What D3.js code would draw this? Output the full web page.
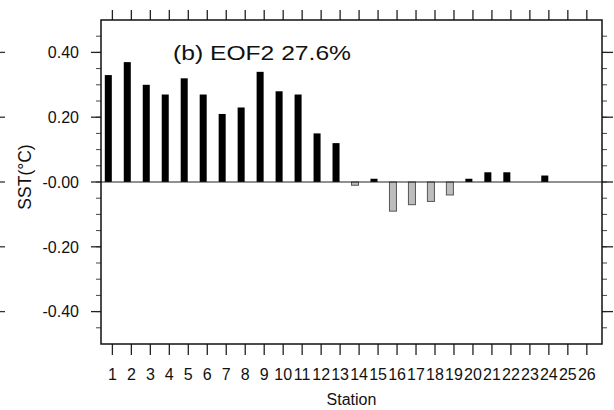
<!DOCTYPE html>
<html>
<head>
<meta charset="utf-8">
<script src="https://cdn.jsdelivr.net/npm/d3@7"></script>
<style>
  body { margin: 0; background: #fff; }
  svg { display: block; }
  text { font-family: "Liberation Sans", Arial, Helvetica, sans-serif; fill: #111; }
</style>
</head>
<body>
<div id="chart"></div>
<script>
// EOF2 loadings per station
var stations = d3.range(1, 27);
var eof2 = [0.33, 0.37, 0.30, 0.27, 0.32, 0.27, 0.21, 0.23, 0.34, 0.28, 0.27, 0.15, 0.12,
            -0.01, 0.01, -0.09, -0.07, -0.06, -0.04, 0.01, 0.03, 0.03, 0.00, 0.02, 0.00, 0.00];
var yTicks = [0.4, 0.2, 0, -0.2, -0.4];
var yTickLabels = ["0.40", "0.20", "-0.00", "-0.20", "-0.40"];
var yMinor = d3.range(-0.45, 0.5, 0.05);
var title = "(b) EOF2 27.6%";

var drawChart = function() {
	var width = 614, height = 410;
	// plot frame edges (note: "top" is a reserved global, so plotTop etc.)
	var plotLeft = 101, plotRight = 602, plotTop = 20, plotBottom = 344;

	var svg = d3.select("#chart").append("svg")
		.attr("width", width)
		.attr("height", height);

	var x = d3.scaleLinear().domain([0.4, 26.8]).range([plotLeft, plotRight]);
	var y = d3.scaleLinear().domain([-0.5, 0.5]).range([plotBottom, plotTop]);

	// bars (drawn just left of each station tick, like the original)
	var barData = eof2.map(function(v, i) { return {s: stations[i], v: v}; })
		.filter(function(d) { return d.v != 0; });

	svg.selectAll(".bar")
		.data(barData)
		.enter().append("rect")
		.attr("class", "bar")
		.attr("x", function(d) { return x(d.s - 0.4); })
		.attr("width", function(d) { return x(d.s - 0.03) - x(d.s - 0.4); })
		.attr("y", function(d) { return y(Math.max(0, d.v)); })
		.attr("height", function(d) { return Math.abs(y(d.v) - y(0)); })
		.style("fill", function(d) { return d.v > 0 ? "#000" : "#bdbdbd"; })
		.style("stroke", function(d) { return d.v > 0 ? "none" : "#555"; })
		.style("stroke-width", 1);

	// zero reference line
	svg.append("line")
		.attr("x1", plotLeft).attr("x2", plotRight)
		.attr("y1", y(0)).attr("y2", y(0))
		.style("stroke", "#222").style("stroke-width", 1);

	// x ticks, bottom and top, pointing outward
	var xt = svg.append("g").attr("class", "xticks");
	stations.forEach(function(s) {
		xt.append("line")
			.attr("x1", x(s)).attr("x2", x(s))
			.attr("y1", plotBottom).attr("y2", plotBottom + 11)
			.style("stroke", "#222").style("stroke-width", 1.3);
		xt.append("line")
			.attr("x1", x(s)).attr("x2", x(s))
			.attr("y1", plotTop).attr("y2", plotTop - 10)
			.style("stroke", "#222").style("stroke-width", 1.3);
		xt.append("text")
			.attr("x", x(s)).attr("y", 379.5)
			.attr("text-anchor", "middle")
			.style("font-size", "16px")
			.text(s);
	});

	// y ticks, left and right
	var yt = svg.append("g").attr("class", "yticks");
	yMinor.forEach(function(v) {
		yt.append("line")
			.attr("x1", plotLeft - 5).attr("x2", plotLeft)
			.attr("y1", y(v)).attr("y2", y(v))
			.style("stroke", "#444").style("stroke-width", 1);
		yt.append("line")
			.attr("x1", plotRight).attr("x2", plotRight + 5)
			.attr("y1", y(v)).attr("y2", y(v))
			.style("stroke", "#444").style("stroke-width", 1);
	});
	yTicks.forEach(function(v, i) {
		yt.append("line")
			.attr("x1", plotLeft - 10).attr("x2", plotLeft)
			.attr("y1", y(v)).attr("y2", y(v))
			.style("stroke", "#222").style("stroke-width", 1.3);
		yt.append("line")
			.attr("x1", plotRight).attr("x2", plotRight + 11)
			.attr("y1", y(v)).attr("y2", y(v))
			.style("stroke", "#222").style("stroke-width", 1.3);
		yt.append("text")
			.attr("x", 79).attr("y", y(v))
			.attr("dy", "0.36em")
			.attr("text-anchor", "end")
			.style("font-size", "16px")
			.text(yTickLabels[i]);
		// right-axis ticks of the neighbouring panel, cut off at the edge
		yt.append("line")
			.attr("x1", 0).attr("x2", 5)
			.attr("y1", y(v)).attr("y2", y(v))
			.style("stroke", "#333").style("stroke-width", 1.3);
	});

	// frame
	svg.append("rect")
		.attr("x", plotLeft).attr("y", plotTop)
		.attr("width", plotRight - plotLeft).attr("height", plotBottom - plotTop)
		.style("fill", "none")
		.style("stroke", "#111").style("stroke-width", 1.5);

	// labels
	svg.append("text")
		.attr("x", (plotLeft + plotRight) / 2).attr("y", 405)
		.attr("text-anchor", "middle")
		.style("font-size", "16px")
		.text("Station");

	svg.append("text")
		.attr("transform", "translate(31,177) rotate(-90)")
		.attr("text-anchor", "middle")
		.style("font-size", "17.5px")
		.text("SST(°C)");

	svg.append("text")
		.attr("x", 173).attr("y", 59.5)
		.attr("textLength", 178)
		.attr("lengthAdjust", "spacingAndGlyphs")
		.style("font-size", "19.5px")
		.text(title);
};

drawChart();
</script>
</body>
</html>
